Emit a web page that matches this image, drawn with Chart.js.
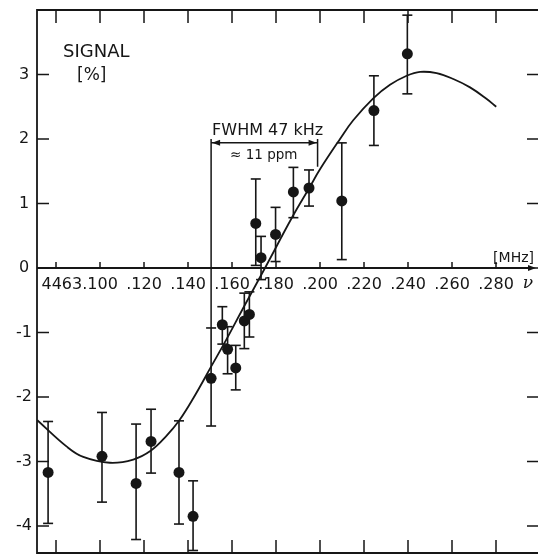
<!DOCTYPE html>
<html lang="en">
<head>
    <meta charset="UTF-8">
    <title>Signal vs frequency</title>
    <script src="https://cdn.jsdelivr.net/npm/chart.js@4.4.0/dist/chart.umd.min.js"></script>
    <style>
        html, body {
            margin: 0;
            padding: 0;
            background: #fff;
            overflow: hidden;
        }
        #chart {
            display: block;
        }
    </style>
</head>
<body>
    <canvas id="chart" width="538" height="554"></canvas>

    <script>
        // measured points: frequency offset from 4463 MHz [MHz], signal [%]
        const freq    = [0.0764, 0.1009, 0.1164, 0.1232, 0.1359, 0.1423, 0.1505, 0.1556, 0.1580, 0.1617,
                         0.1656, 0.1679, 0.1708, 0.1732, 0.1798, 0.1879, 0.1950, 0.2099, 0.2245, 0.2397];
        const signal  = [-3.17, -2.92, -3.34, -2.69, -3.17, -3.85, -1.71, -0.88, -1.26, -1.55,
                         -0.82, -0.72, 0.69, 0.16, 0.52, 1.18, 1.24, 1.04, 2.44, 3.32];
        const errLow  = [-3.96, -3.63, -4.21, -3.18, -3.97, -4.38, -2.45, -1.18, -1.64, -1.89,
                         -1.25, -1.07, 0.04, -0.18, 0.10, 0.78, 0.96, 0.13, 1.90, 2.70];
        const errHigh = [-2.38, -2.24, -2.42, -2.19, -2.37, -3.30, -0.93, -0.60, -0.91, -1.20,
                         -0.39, -0.37, 1.38, 0.49, 0.94, 1.56, 1.52, 1.94, 2.98, 3.92];

        // fitted line
        const fitFreq   = [0.0715, 0.0849, 0.0924, 0.1045, 0.1151, 0.1232, 0.1303, 0.1359, 0.1424, 0.1505,
                           0.1576, 0.1651, 0.1750, 0.1874, 0.1951, 0.2000, 0.2091, 0.2151, 0.2242, 0.2318,
                           0.2394, 0.2455, 0.2530, 0.2606, 0.2682, 0.2758, 0.2801];
        const fitSignal = [-2.36, -2.77, -2.93, -3.02, -2.97, -2.83, -2.60, -2.37, -2.02, -1.53,
                           -1.10, -0.62, 0.00, 0.79, 1.24, 1.53, 2.00, 2.29, 2.63, 2.84,
                           2.98, 3.04, 3.02, 2.93, 2.80, 2.62, 2.50];

        // axes
        const xTicks      = [0.08, 0.10, 0.12, 0.14, 0.16, 0.18, 0.20, 0.22, 0.24, 0.26, 0.28];
        const xTickLabels = ['', '4463.100', '.120', '.140', '.160', '.180', '.200', '.220', '.240', '.260', '.280'];
        const yTicks      = [3, 2, 1, 0, -1, -2, -3, -4];
        const yTickLabels = ['3', '2', '1', '0', '-1', '-2', '-3', '-4'];

        // FWHM marker
        const fwhmLeft  = 0.1505;
        const fwhmRight = 0.1989;
        const fwhmLevel = 1.94;

        const INK = '#161616';

        // error bar stems, one broken line
        const stemData = [];
        freq.forEach((f, i) => {
            stemData.push({ x: f, y: errLow[i] });
            stemData.push({ x: f, y: errHigh[i] });
            stemData.push({ x: f, y: null });
        });
        const capData = [];
        freq.forEach((f, i) => {
            capData.push({ x: f, y: errLow[i] });
            capData.push({ x: f, y: errHigh[i] });
        });

        const frame = {
            id: 'frame',
            afterDraw(chart) {
                const ctx = chart.ctx;
                const xs = chart.scales.x;
                const ys = chart.scales.y;
                const a = chart.chartArea;
                const y0 = ys.getPixelForValue(0);

                ctx.save();
                ctx.strokeStyle = INK;
                ctx.fillStyle = INK;
                ctx.lineWidth = 1.8;

                // border (right side is off the page)
                ctx.beginPath();
                ctx.moveTo(a.right, a.top);
                ctx.lineTo(a.left, a.top);
                ctx.lineTo(a.left, a.bottom);
                ctx.lineTo(a.right, a.bottom);
                ctx.stroke();

                // zero axis with arrow
                ctx.beginPath();
                ctx.moveTo(a.left, y0);
                ctx.lineTo(a.right - 6, y0);
                ctx.stroke();
                ctx.beginPath();
                ctx.moveTo(a.right - 2, y0);
                ctx.lineTo(a.right - 10, y0 - 3);
                ctx.lineTo(a.right - 10, y0 + 3);
                ctx.closePath();
                ctx.fill();

                // x ticks: top, bottom, zero line
                ctx.lineWidth = 1.5;
                xTicks.forEach(v => {
                    const px = xs.getPixelForValue(v);
                    ctx.beginPath();
                    ctx.moveTo(px, a.top);
                    ctx.lineTo(px, a.top + 13);
                    ctx.moveTo(px, a.bottom);
                    ctx.lineTo(px, a.bottom - 13);
                    ctx.moveTo(px, y0);
                    ctx.lineTo(px, y0 - 6);
                    ctx.stroke();
                });

                // y ticks: left and right
                yTicks.forEach(v => {
                    const py = ys.getPixelForValue(v);
                    ctx.beginPath();
                    ctx.moveTo(a.left, py);
                    ctx.lineTo(a.left + 12, py);
                    ctx.moveTo(a.right, py);
                    ctx.lineTo(a.right - 11, py);
                    ctx.stroke();
                });

                // tick labels
                ctx.font = '16px "DejaVu Sans"';
                ctx.textBaseline = 'middle';
                ctx.textAlign = 'center';
                yTicks.forEach((v, i) => {
                    ctx.fillText(yTickLabels[i], 24, ys.getPixelForValue(v));
                });
                xTicks.forEach((v, i) => {
                    const lab = xTickLabels[i];
                    if (!lab) return;
                    const px = xs.getPixelForValue(v);
                    if (lab.length > 4) {
                        // keep the ".100" part centred on its tick
                        const tail = ctx.measureText(lab.slice(-4)).width;
                        ctx.textAlign = 'right';
                        ctx.fillText(lab, px + tail / 2, y0 + 17);
                        ctx.textAlign = 'center';
                    } else {
                        ctx.fillText(lab, px, y0 + 17);
                    }
                });

                ctx.font = 'italic 17px "DejaVu Serif"';
                ctx.fillText('\u03bd', 528, y0 + 16);

                ctx.font = '14px "DejaVu Sans"';
                ctx.textAlign = 'right';
                ctx.fillText('[MHz]', 534, y0 - 10);

                // axis title
                ctx.textAlign = 'left';
                ctx.font = '18px "DejaVu Sans"';
                ctx.fillText('SIGNAL', 63, 52);
                ctx.font = '17px "DejaVu Sans"';
                ctx.fillText('[%]', 77, 76);

                // FWHM marker
                const xl = xs.getPixelForValue(fwhmLeft);
                const xr = xs.getPixelForValue(fwhmRight);
                const yl = ys.getPixelForValue(fwhmLevel);
                ctx.lineWidth = 1.5;
                ctx.beginPath();
                ctx.moveTo(xl, ys.getPixelForValue(2.0));
                ctx.lineTo(xl, ys.getPixelForValue(-0.93));
                ctx.moveTo(xr, ys.getPixelForValue(2.0));
                ctx.lineTo(xr, ys.getPixelForValue(1.57));
                ctx.moveTo(xl, yl);
                ctx.lineTo(xr, yl);
                ctx.stroke();
                ctx.beginPath();
                ctx.moveTo(xl + 1, yl);
                ctx.lineTo(xl + 9, yl - 3);
                ctx.lineTo(xl + 9, yl + 3);
                ctx.closePath();
                ctx.moveTo(xr - 1, yl);
                ctx.lineTo(xr - 9, yl - 3);
                ctx.lineTo(xr - 9, yl + 3);
                ctx.closePath();
                ctx.fill();

                ctx.font = '16px "DejaVu Sans"';
                ctx.textAlign = 'left';
                ctx.fillText('FWHM 47 kHz', xl + 1, yl - 12);
                ctx.font = '13.5px "DejaVu Sans"';
                ctx.fillText('\u2248 11 ppm', xl + 19, yl + 13);

                ctx.restore();
            }
        };

        new Chart(document.getElementById('chart'), {
            type: 'scatter',
            data: {
                datasets: [
                    {
                        label: 'data',
                        data: freq.map((f, i) => ({ x: f, y: signal[i] })),
                        pointRadius: 5.5,
                        pointBackgroundColor: INK,
                        pointBorderWidth: 0,
                        order: 0
                    },
                    {
                        type: 'line',
                        label: 'fit',
                        data: fitFreq.map((f, i) => ({ x: f, y: fitSignal[i] })),
                        borderColor: INK,
                        borderWidth: 1.8,
                        pointRadius: 0,
                        tension: 0.4,
                        fill: false,
                        order: 1
                    },
                    {
                        type: 'line',
                        label: 'stems',
                        data: stemData,
                        borderColor: INK,
                        borderWidth: 1.6,
                        pointRadius: 0,
                        spanGaps: false,
                        fill: false,
                        order: 2
                    },
                    {
                        label: 'caps',
                        data: capData,
                        pointStyle: 'line',
                        pointRadius: 5,
                        pointBorderColor: INK,
                        pointBorderWidth: 1.6,
                        order: 3
                    }
                ]
            },
            options: {
                responsive: false,
                animation: false,
                layout: { autoPadding: false, padding: { left: 37, top: 10, right: 0, bottom: 1 } },
                plugins: {
                    legend: { display: false },
                    tooltip: { enabled: false }
                },
                scales: {
                    x: { type: 'linear', min: 0.07136, max: 0.29909, display: false },
                    y: { type: 'linear', min: -4.419, max: 4.0, display: false }
                }
            },
            plugins: [frame]
        });
    </script>
</body>
</html>
